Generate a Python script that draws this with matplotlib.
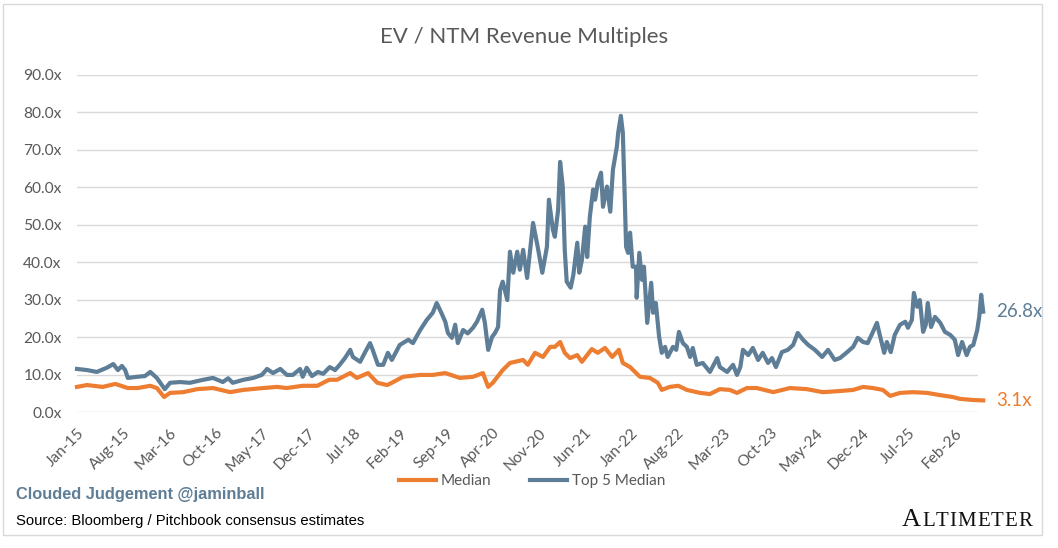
import matplotlib
matplotlib.use("Agg")
import matplotlib.pyplot as plt
from matplotlib.patches import Rectangle

plt.rcParams['font.family'] = ['Lato', 'DejaVu Sans']

# x values: months since Jan-2015
top5_months = [0.0, 1.5, 3.0, 4.5, 5.5, 6.2, 6.8, 7.3, 7.7, 9.1, 10.3, 11.1, 12.1, 13.3, 14.1,
               15.6, 17.1, 19.1, 20.6, 22.1, 22.9, 23.6, 25.2, 26.7, 28.0, 28.8, 29.7, 30.8,
               31.8, 32.7, 33.8, 34.2, 34.8, 35.6, 36.5, 37.3, 38.3, 39.1, 39.8, 40.6, 41.4,
               41.8, 42.9, 43.6, 44.4, 44.8, 45.6, 46.4, 47.1, 47.7, 48.9, 50.2, 50.9, 52.0,
               53.0, 53.9, 54.5, 55.2, 55.8, 56.2, 56.8, 57.3, 57.7, 58.5, 59.2, 60.0, 60.6,
               61.4, 61.8, 62.3, 62.9, 63.3, 63.8, 64.1, 64.5, 65.2, 65.6, 66.1, 66.7, 67.1,
               67.6, 68.2, 69.1, 69.8, 70.5, 71.2, 71.5, 72.1, 72.4, 72.9, 73.2, 73.6, 73.9,
               74.2, 74.8, 75.2, 75.8, 76.1, 76.5, 77.0, 77.3, 77.7, 78.2, 78.5, 78.9, 79.4,
               79.7, 80.3, 80.8, 81.2, 81.8, 82.0, 82.4, 82.7, 82.9, 83.2, 83.5, 83.8, 84.2,
               84.7, 84.8, 85.2, 85.6, 85.9, 86.4, 87.0, 87.3, 87.7, 88.2, 88.6, 89.1, 89.5,
               90.3, 90.8, 91.2, 91.8, 92.4, 92.9, 93.3, 93.9, 94.8, 95.9, 97.0, 97.4, 98.5,
               99.4, 100.0, 100.5, 100.9, 101.7, 102.4, 103.2, 103.9, 104.7, 105.3, 105.9,
               106.8, 107.7, 108.5, 109.2, 110.0, 110.8, 111.8, 112.9, 113.8, 114.8, 115.6,
               116.7, 117.6, 118.3, 119.1, 119.8, 120.6, 121.2, 121.7, 122.3, 122.7, 123.3,
               123.9, 124.7, 125.5, 125.9, 126.5, 126.8, 127.3, 127.7, 128.2, 128.6, 128.9,
               129.4, 130.0, 130.8, 131.5, 132.3, 133.0, 133.5, 134.1, 134.8, 135.3, 135.8,
               136.4, 136.7, 137.0, 137.3]
top5_values = [11.5, 11.2, 10.7, 11.8, 12.8, 11.2, 12.3, 11.2, 9.1, 9.4, 9.6, 10.7, 9.1, 6.1, 7.8,
               8.0, 7.8, 8.6, 9.1, 8.0, 9.0, 7.8, 8.6, 9.1, 9.9, 11.5, 10.4, 11.5,
               9.9, 9.9, 11.5, 9.4, 11.8, 9.6, 10.7, 10.2, 12.0, 11.2, 12.6, 14.4, 16.6,
               14.7, 13.4, 15.8, 18.4, 16.6, 12.6, 12.6, 15.8, 13.9, 17.9, 19.3, 18.4, 21.9,
               24.6, 26.5, 29.1, 26.5, 24.1, 21.1, 19.8, 23.3, 18.4, 21.9, 21.0, 22.5, 24.1,
               27.3, 23.8, 16.6, 20.1, 21.0, 22.7, 32.6, 34.8, 29.9, 42.8, 37.2, 42.8, 38.0,
               43.3, 35.8, 50.5, 44.1, 37.2, 44.1, 56.7, 48.7, 46.8, 54.0, 66.8, 60.2, 43.3,
               34.8, 33.2, 36.6, 45.2, 37.2, 40.6, 49.5, 41.4, 52.1, 59.4, 56.7, 61.2, 63.9,
               54.8, 60.2, 53.5, 64.7, 70.9, 74.6, 79.1, 74.6, 62.8, 44.1, 42.5, 47.9, 38.8,
               38.8, 30.5, 42.5, 35.3, 38.8, 23.8, 34.5, 26.5, 29.1, 20.1, 15.8, 17.4, 14.7,
               17.4, 16.6, 21.4, 18.4, 17.4, 14.7, 17.1, 12.6, 13.1, 10.7, 14.4, 12.0, 10.7,
               12.6, 9.9, 12.0, 16.6, 15.2, 17.1, 13.9, 15.8, 13.1, 14.4, 12.0,
               16.0, 16.6, 17.9, 21.1, 19.3, 17.9, 16.6, 14.7, 16.6, 13.9, 14.4,
               16.0, 17.4, 19.8, 18.7, 18.4, 21.4, 23.8, 20.1, 15.8, 18.7, 16.0,
               20.6, 23.3, 24.1, 22.5, 24.6, 31.8, 28.1, 29.9, 21.4, 23.3, 29.1,
               22.7, 25.4, 23.8, 21.4, 20.6, 19.3, 15.2, 18.7, 15.2, 17.4, 17.9,
               21.9, 25.4, 31.3, 26.8]

median_months = [0.0, 1.5, 3.9, 5.8, 7.7, 9.2, 11.1, 12.1, 13.2, 14.1, 16.1, 18.2, 20.6, 23.2,
                 25.2, 28.2, 30.3, 31.8, 34.2, 36.4, 37.3, 38.2, 39.4, 41.4, 42.4, 44.1, 45.5,
                 47.0, 47.7, 49.4, 52.0, 53.9, 55.8, 58.0, 60.0, 61.5, 62.3, 63.0, 64.5, 65.6,
                 67.6, 68.3, 69.4, 70.6, 71.7, 72.4, 73.2, 73.9, 74.7, 75.8, 76.5, 78.0, 78.9,
                 80.0, 81.1, 82.1, 82.7, 83.8, 85.3, 86.8, 88.0, 88.6, 89.8, 91.1, 92.4, 94.4,
                 95.9, 97.4, 98.9, 100.0, 101.5, 103.0, 105.5, 108.0, 110.6, 113.0, 115.6,
                 117.6, 119.1, 120.6, 122.1, 123.2, 124.7, 126.7, 128.8, 130.8, 132.7, 133.8,
                 135.8, 137.3]
median_values = [6.7, 7.2, 6.7, 7.5, 6.4, 6.4, 7.0, 6.4, 4.0, 5.1, 5.3, 6.1, 6.4, 5.3,
                 5.9, 6.4, 6.7, 6.4, 7.0, 7.0, 7.8, 8.6, 8.6, 10.4, 9.1, 10.4, 7.8,
                 7.2, 7.8, 9.4, 9.9, 9.9, 10.4, 9.1, 9.4, 10.4, 6.7, 7.8, 11.2, 13.1,
                 13.9, 12.6, 15.8, 14.7, 17.4, 17.4, 18.7, 15.8, 14.4, 15.2, 13.4, 16.8, 15.8,
                 17.1, 14.7, 16.6, 13.1, 12.0, 9.4, 9.1, 7.8, 5.9, 6.7, 7.0, 5.9, 5.1,
                 4.8, 6.1, 5.9, 5.1, 6.4, 6.4, 5.3, 6.4, 6.1, 5.3, 5.6,
                 5.9, 6.7, 6.4, 5.9, 4.3, 5.1, 5.3, 5.1, 4.5, 4.0, 3.5,
                 3.2, 3.1]

tick_months = [0, 7, 14, 21, 28, 35, 42, 49, 56, 63, 70, 77, 84, 91, 98, 105, 112, 119, 126, 133]
tick_labels = ['Jan-15', 'Aug-15', 'Mar-16', 'Oct-16', 'May-17', 'Dec-17', 'Jul-18', 'Feb-19',
               'Sep-19', 'Apr-20', 'Nov-20', 'Jun-21', 'Jan-22', 'Aug-22', 'Mar-23', 'Oct-23',
               'May-24', 'Dec-24', 'Jul-25', 'Feb-26']
y_ticks = [0, 10, 20, 30, 40, 50, 60, 70, 80, 90]

ORANGE = '#ED7D31'
BLUE = '#5E7D96'
GREY = '#595959'

W, H = 1058, 548
fig = plt.figure(figsize=(W / 100, H / 100), dpi=100)
fig.patch.set_facecolor('white')
fig.patches.append(Rectangle((3 / W, 1 - 535 / H), 1039 / W, 531 / H, transform=fig.transFigure,
                             fill=False, edgecolor='#D9D9D9', linewidth=1))

ax = fig.add_axes([77 / W, 1 - 412 / H, (978 - 77) / W, (412 - 75) / H])
ax.plot(median_months, median_values, color=ORANGE, lw=3, label='Median', clip_on=False,
        solid_joinstyle='round')
ax.plot(top5_months, top5_values, color=BLUE, lw=3, label='Top 5 Median', clip_on=False,
        solid_joinstyle='round')

ax.set_xlim(0, (978 - 77) / 6.6)
ax.set_ylim(0, 90)
ax.set_yticks(y_ticks)
ax.set_yticklabels(['%.1fx' % v for v in y_ticks])
ax.set_xticks(tick_months)
ax.set_xticklabels(tick_labels, rotation=45, ha='right', rotation_mode='anchor')
ax.tick_params(axis='both', length=0, colors=GREY, labelsize=11.2)
ax.tick_params(axis='y', pad=11)
ax.tick_params(axis='x', pad=10)
for s in ax.spines.values():
    s.set_visible(False)
ax.grid(axis='y', color='#D9D9D9', linewidth=1)
ax.set_axisbelow(True)

ax.text(1.02, top5_values[-1], '%.1fx' % top5_values[-1], transform=ax.get_yaxis_transform(),
        color=BLUE, fontsize=13.5, va='center', ha='left')
ax.text(1.02, median_values[-1], '%.1fx' % median_values[-1], transform=ax.get_yaxis_transform(),
        color=ORANGE, fontsize=13.5, va='center', ha='left')

fig.text(524 / W, 1 - 37 / H, 'EV / NTM Revenue Multiples', ha='center', va='center',
         fontsize=16, color=GREY)

fig.legend(loc='center', bbox_to_anchor=(532 / W, 1 - 481 / H), ncol=2, frameon=False,
           fontsize=11, handlelength=2.4, handletextpad=0.3, columnspacing=2.6,
           labelcolor=GREY)

fig.text(16 / W, 1 - 495 / H, 'Clouded Judgement @jaminball', fontsize=11.8, fontweight='bold',
         color=BLUE, family='Liberation Sans', va='center')
fig.text(16 / W, 1 - 521 / H, 'Source: Bloomberg / Pitchbook consensus estimates', fontsize=10.7,
         color='black', family='Liberation Sans', va='center')

# wordmark: letters placed one by one with extra tracking
renderer = fig.canvas.get_renderer()
letters = 'ALTIMETER'
glyphs = []
for i, ch in enumerate(letters):
    t = fig.text(0, 1 - 526 / H, ch, fontsize=19 if i == 0 else 15, family='Liberation Serif',
                 color='#111111', va='baseline', ha='left')
    glyphs.append(t)
widths = [g.get_window_extent(renderer).width for g in glyphs]
track = (130 - sum(widths)) / (len(letters) - 1)
lx = 902
for g, w in zip(glyphs, widths):
    g.set_x(lx / W)
    lx += w + track

fig.savefig('out.png', dpi=100)
